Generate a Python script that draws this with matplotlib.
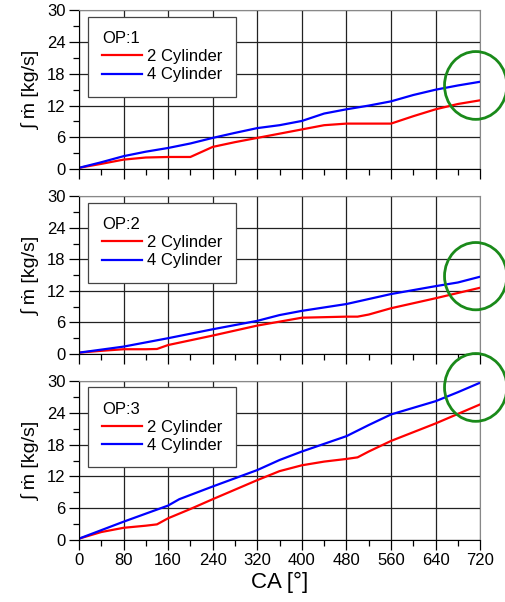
import numpy as np
import matplotlib.pyplot as plt
from matplotlib.patches import Ellipse

plt.rcParams['font.family'] = ['Liberation Sans', 'DejaVu Sans']

# crank angle samples [deg]
ca1 = [0, 40, 80, 120, 160, 200, 240, 280, 320, 360, 400, 440, 480, 520, 560, 600, 640, 680, 720]
op1_2cyl = [0.25, 1.0, 1.8, 2.2, 2.3, 2.3, 4.2, 5.1, 5.9, 6.7, 7.5, 8.3, 8.6, 8.6, 8.6, 10.0, 11.3, 12.3, 13.0]
op1_4cyl = [0.25, 1.3, 2.45, 3.3, 4.0, 4.85, 5.9, 6.85, 7.75, 8.3, 9.1, 10.5, 11.3, 12.0, 12.8, 14.0, 15.0, 15.8, 16.5]

ca2 = [0, 40, 80, 120, 140, 160, 240, 320, 400, 480, 500, 520, 560, 640, 720]
op2_2cyl = [0.25, 0.6, 0.9, 0.9, 0.95, 1.7, 3.5, 5.4, 6.9, 7.1, 7.1, 7.5, 8.7, 10.6, 12.6]
ca2b = [0, 80, 160, 240, 320, 360, 400, 480, 560, 640, 680, 720]
op2_4cyl = [0.25, 1.4, 3.0, 4.7, 6.3, 7.4, 8.2, 9.5, 11.4, 12.9, 13.6, 14.7]

ca3 = [0, 40, 80, 120, 140, 160, 200, 240, 320, 360, 400, 440, 480, 500, 520, 560, 640, 720]
op3_2cyl = [0.25, 1.5, 2.3, 2.7, 2.95, 4.1, 5.85, 7.7, 11.3, 13.0, 14.1, 14.8, 15.3, 15.6, 16.7, 18.7, 22.0, 25.6]
ca3b = [0, 80, 160, 180, 240, 320, 360, 400, 480, 520, 560, 640, 680, 720]
op3_4cyl = [0.25, 3.45, 6.5, 7.7, 10.1, 13.2, 15.1, 16.7, 19.6, 21.7, 23.7, 26.2, 27.9, 29.7]

titles = ['OP:1', 'OP:2', 'OP:3']
data = [(ca1, op1_2cyl, ca1, op1_4cyl),
        (ca2, op2_2cyl, ca2b, op2_4cyl),
        (ca3, op3_2cyl, ca3b, op3_4cyl)]
# centres of the highlight circles (data coords)
circ_y = [15.8, 14.8, 28.8]

fig = plt.figure(figsize=(5.06, 6.02), dpi=100)
boxes = [[0.156, 0.719, 0.793, 0.264],
         [0.156, 0.412, 0.793, 0.262],
         [0.156, 0.103, 0.793, 0.264]]

for i in range(3):
	ax = fig.add_axes(boxes[i])
	xa, ya, xb, yb = data[i]
	ax.plot(xa, ya, color='red', lw=1.6, label='2 Cylinder')
	ax.plot(xb, yb, color='blue', lw=1.6, label='4 Cylinder')
	ax.set_xlim(0, 720)
	ax.set_ylim(0, 30)
	ax.set_xticks(np.arange(0, 721, 80))
	ax.set_xticks(np.arange(40, 720, 80), minor=True)
	ax.set_yticks(np.arange(0, 31, 6))
	ax.set_yticks(np.arange(3, 30, 6), minor=True)
	ax.grid(True, which='major', color='#222222', lw=0.9)
	ax.tick_params(which='major', direction='out', length=7, width=0.9, labelsize=12, pad=2.5)
	ax.tick_params(which='minor', direction='out', length=4, width=0.9)
	ax.set_ylabel('∫ ṁ [kg/s]', fontsize=14, labelpad=5)
	for s in ['top', 'right']:
		ax.spines[s].set_color('#888888')
	if i < 2:
		ax.tick_params(labelbottom=False)
	else:
		ax.set_xlabel('CA [°]', fontsize=16, labelpad=3)
	leg = ax.legend(loc='upper left', bbox_to_anchor=(0.022, 0.96), title=titles[i],
	                fontsize=12, title_fontsize=12, handlelength=2.4, fancybox=False,
	                framealpha=1, edgecolor='#444444', borderaxespad=0,
	                borderpad=0.85, labelspacing=0.2, handletextpad=0.3)
	leg._legend_box.align = 'left'
	leg.get_frame().set_linewidth(0.9)
	el = Ellipse((712, circ_y[i]), 112, 12.8, fill=False, edgecolor='#1a8a1a',
	             lw=2, clip_on=False, zorder=5)
	ax.add_patch(el)

fig.savefig('out.png', dpi=100)
